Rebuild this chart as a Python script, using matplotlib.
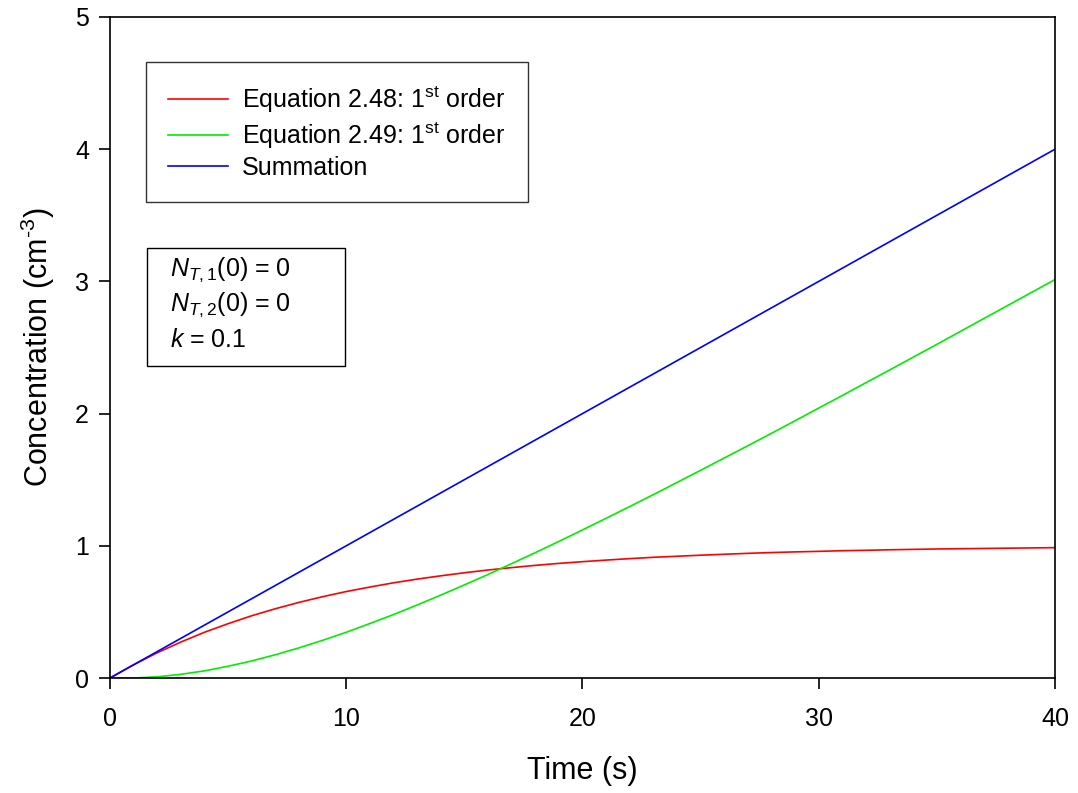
import matplotlib
matplotlib.use("Agg")
import matplotlib.pyplot as plt
from matplotlib.patches import Rectangle

plt.rcParams['font.family'] = ['Liberation Sans', 'DejaVu Sans']
plt.rcParams['mathtext.fontset'] = 'custom'
plt.rcParams['mathtext.rm'] = 'Liberation Sans'
plt.rcParams['mathtext.it'] = 'Liberation Sans:italic'
plt.rcParams['mathtext.bf'] = 'Liberation Sans:bold'

# time axis (s)
time_s = list(range(0, 41))

# Equation 2.48 (first-order, trap level 1)
eq248 = [0.000, 0.100, 0.191, 0.272, 0.346, 0.411, 0.471, 0.524, 0.572, 0.615,
         0.654, 0.688, 0.720, 0.748, 0.773, 0.796, 0.817, 0.835, 0.852, 0.867,
         0.880, 0.892, 0.903, 0.913, 0.921, 0.929, 0.936, 0.943, 0.949, 0.954,
         0.958, 0.963, 0.966, 0.970, 0.973, 0.976, 0.978, 0.980, 0.982, 0.984,
         0.986]

# Equation 2.49 (first-order, trap level 2)
eq249 = [0.000, 0.000, 0.009, 0.028, 0.054, 0.089, 0.129, 0.176, 0.228, 0.285,
         0.346, 0.412, 0.480, 0.552, 0.627, 0.704, 0.783, 0.865, 0.948, 1.033,
         1.120, 1.208, 1.297, 1.387, 1.479, 1.571, 1.664, 1.757, 1.851, 1.946,
         2.042, 2.137, 2.234, 2.330, 2.427, 2.524, 2.622, 2.720, 2.818, 2.916,
         3.014]

# Summation of both levels
summation = [0.0, 0.1, 0.2, 0.3, 0.4, 0.5, 0.6, 0.7, 0.8, 0.9,
             1.0, 1.1, 1.2, 1.3, 1.4, 1.5, 1.6, 1.7, 1.8, 1.9,
             2.0, 2.1, 2.2, 2.3, 2.4, 2.5, 2.6, 2.7, 2.8, 2.9,
             3.0, 3.1, 3.2, 3.3, 3.4, 3.5, 3.6, 3.7, 3.8, 3.9,
             4.0]

series_labels = ["Equation 2.48: 1$^{\\rm st}$ order",
                 "Equation 2.49: 1$^{\\rm st}$ order",
                 "Summation"]
x_ticks = [0, 10, 20, 30, 40]
y_ticks = [0, 1, 2, 3, 4, 5]
param_lines = ["$N_{T,1}$(0) = 0", "$N_{T,2}$(0) = 0", "$k$ = 0.1"]

fig = plt.figure(figsize=(10.78, 7.93), dpi=100)
ax = fig.add_axes([0.102, 0.145, 0.8767, 0.8336])

lw = 1.2
ax.plot(time_s, eq248, color="#ff0000", lw=lw, label=series_labels[0])
ax.plot(time_s, eq249, color="#00ee00", lw=lw, label=series_labels[1])
ax.plot(time_s, summation, color="#0000ff", lw=lw, label=series_labels[2])

ax.set_xlim(0, 40)
ax.set_ylim(0, 5)
ax.set_xticks(x_ticks)
ax.set_yticks(y_ticks)
ax.tick_params(direction="out", length=8, width=1.2, labelsize=18,
               top=False, right=False)
ax.tick_params(axis="x", pad=13)
ax.tick_params(axis="y", pad=7)
for sp in ax.spines.values():
    sp.set_linewidth(1.2)

ax.set_xlabel("Time (s)", fontsize=22, labelpad=18)
ax.set_ylabel("Concentration (cm$^{\\text{-}3}$)", fontsize=22, labelpad=13)

leg = ax.legend(loc="upper left", bbox_to_anchor=(0.038, 0.932), fontsize=18,
                frameon=True, fancybox=False, edgecolor="black",
                handlelength=2.4, handletextpad=0.55, borderpad=0.9,
                labelspacing=0.2, borderaxespad=0)
leg.get_frame().set_linewidth(1.0)

# parameter box
ax.add_patch(Rectangle((0.0392, 0.472), 0.2095, 0.1785, transform=ax.transAxes,
                       facecolor="white", edgecolor="black", linewidth=1.0,
                       zorder=5))
for i, line in enumerate(param_lines):
    ax.text(0.0635, 0.617 - i * 0.0525, line, transform=ax.transAxes,
            fontsize=18, va="center", ha="left", zorder=6)

fig.savefig("out.png", dpi=100)
